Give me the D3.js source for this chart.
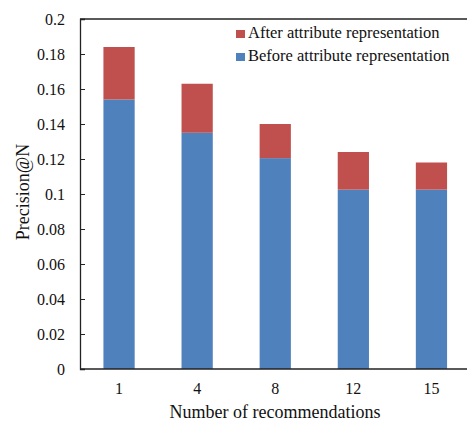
<!DOCTYPE html>
<html lang="en">
<head>
  <meta charset="UTF-8">
  <title>Precision@N</title>
  <script src="https://cdn.jsdelivr.net/npm/d3@7"></script>
  <style>
    body { margin: 0; background: #fff; }
    svg text { font-family: 'Liberation Serif', 'DejaVu Serif', serif !important; }
  </style>
</head>
<body>
  <div id="chart"></div>
  <script>
    const categories = ['1', '4', '8', '12', '15']
    const beforeValues = [0.154, 0.135, 0.1205, 0.1025, 0.1025]
    const afterValues = [0.184, 0.163, 0.140, 0.124, 0.118]
    const yTicks = [0, 0.02, 0.04, 0.06, 0.08, 0.1, 0.12, 0.14, 0.16, 0.18, 0.2]
    const seriesNames = ['After attribute representation', 'Before attribute representation']

    const width = 467
    const height = 426
    const blue = '#4f81bd'
    const red = '#c0504d'

    const x = d3.scaleBand()
      .domain(categories)
      .range([80, 470.5])
      .paddingInner(0.6)
      .paddingOuter(0.3)

    const y = d3.scaleLinear()
      .domain([0, 0.2])
      .range([369, 19])

    const svg = d3.select('#chart')
      .append('svg')
      .attr('width', width)
      .attr('height', height)

    // blue part: before
    svg.selectAll('.before')
      .data(categories)
      .enter()
      .append('rect')
      .attr('class', 'before')
      .attr('x', d => x(d))
      .attr('width', x.bandwidth())
      .attr('y', (d, i) => y(beforeValues[i]))
      .attr('height', (d, i) => y(0) - y(beforeValues[i]))
      .attr('fill', blue)

    // red part: gain after
    svg.selectAll('.after')
      .data(categories)
      .enter()
      .append('rect')
      .attr('class', 'after')
      .attr('x', d => x(d))
      .attr('width', x.bandwidth())
      .attr('y', (d, i) => y(afterValues[i]))
      .attr('height', (d, i) => y(beforeValues[i]) - y(afterValues[i]))
      .attr('fill', red)

    // top border
    svg.append('line')
      .attr('x1', 80).attr('x2', width)
      .attr('y1', y(0.2)).attr('y2', y(0.2))
      .attr('stroke', '#222').attr('stroke-width', 1.3)

    const yAxis = d3.axisRight(y)
      .tickValues(yTicks)
      .tickSize(5)
      .tickFormat(d => d3.format('')(+d.toFixed(2)))

    const gy = svg.append('g')
      .attr('transform', 'translate(80,0)')
      .call(yAxis)
    gy.select('.domain').attr('stroke', '#222').attr('stroke-width', 1.3)
    gy.selectAll('.tick line').attr('stroke', '#222')
    gy.selectAll('.tick text')
      .attr('x', -15)
      .attr('text-anchor', 'end')
      .attr('font-size', 16)
      .attr('fill', '#111')

    const xAxis = d3.axisBottom(x).tickSize(0).tickPadding(14)
    const gx = svg.append('g')
      .attr('transform', `translate(0,${y(0)})`)
      .call(xAxis)
    gx.select('.domain').attr('stroke', '#222').attr('stroke-width', 1.3)
      .attr('d', `M80,0H${width}`)
    gx.selectAll('.tick text')
      .attr('font-size', 16)
      .attr('fill', '#111')

    svg.append('text')
      .attr('x', 275)
      .attr('y', 418)
      .attr('text-anchor', 'middle')
      .attr('font-size', 18)
      .attr('fill', '#111')
      .text('Number of recommendations')

    svg.append('text')
      .attr('transform', 'translate(29,192) rotate(-90)')
      .attr('text-anchor', 'middle')
      .attr('font-size', 18)
      .attr('fill', '#111')
      .text('Precision@N')

    // legend
    const legend = svg.append('g')
    const colors = [red, blue]
    seriesNames.forEach((name, i) => {
      const ly = 38 + i * 23
      legend.append('rect')
        .attr('x', 236).attr('y', ly - 8)
        .attr('width', 9).attr('height', 8)
        .attr('fill', colors[i])
      legend.append('text')
        .attr('x', 248).attr('y', ly)
        .attr('font-size', 16.5)
        .attr('fill', '#111')
        .text(name)
    })
  </script>
</body>
</html>
